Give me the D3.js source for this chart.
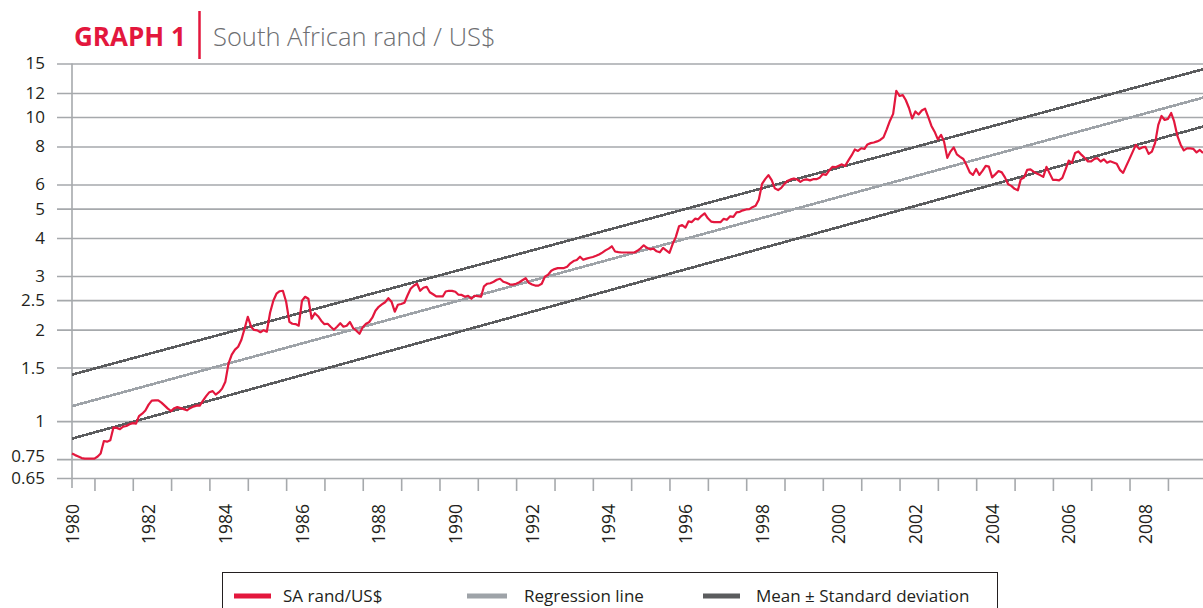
<!DOCTYPE html>
<html><head><meta charset="utf-8">
<script src="https://cdn.jsdelivr.net/npm/d3@7"></script>
<style>
body{margin:0;background:#fff;}
svg text{font-family:"Open Sans","Noto Sans",sans-serif;}
</style>
</head><body>
<svg id="chart" width="1203" height="608"></svg>
<script>
// ---- data ----
const firstMonth = [1980, 5];          // June 1980, monthly observations
const randUsd = [
0.782,0.773,0.765,0.756,0.753,0.753,0.753,0.753,0.765,0.782,0.860,0.856,0.865,0.952,0.950,0.941,0.959,0.964,0.977,0.985,
0.981,1.038,1.058,1.083,1.133,1.168,1.170,1.170,1.150,1.124,1.099,1.079,1.103,1.112,1.103,1.095,1.085,1.103,1.116,1.124,
1.124,1.168,1.208,1.245,1.255,1.222,1.245,1.279,1.348,1.545,1.654,1.718,1.757,1.852,2.013,2.204,2.044,1.995,1.988,1.960,
1.991,1.968,2.272,2.488,2.624,2.674,2.684,2.470,2.120,2.090,2.085,2.060,2.488,2.564,2.526,2.171,2.263,2.213,2.139,2.083,
2.090,2.044,1.998,2.044,2.099,2.044,2.060,2.118,2.024,1.983,1.938,2.036,2.090,2.114,2.188,2.307,2.377,2.419,2.460,2.536,
2.470,2.290,2.413,2.427,2.451,2.584,2.724,2.787,2.830,2.684,2.746,2.766,2.653,2.613,2.570,2.570,2.570,2.669,2.684,2.680,
2.663,2.604,2.600,2.564,2.584,2.526,2.584,2.575,2.564,2.776,2.830,2.841,2.873,2.917,2.939,2.873,2.851,2.818,2.810,2.830,
2.862,2.906,2.951,2.851,2.814,2.791,2.790,2.830,2.984,3.029,3.122,3.162,3.186,3.186,3.186,3.218,3.304,3.360,3.386,3.471,
3.393,3.423,3.444,3.465,3.497,3.532,3.583,3.643,3.693,3.758,3.613,3.596,3.585,3.585,3.585,3.585,3.587,3.632,3.701,3.786,
3.715,3.673,3.690,3.618,3.590,3.715,3.646,3.577,3.829,4.028,4.371,4.414,4.328,4.539,4.515,4.633,4.609,4.733,4.824,4.645,
4.532,4.515,4.510,4.510,4.626,4.592,4.716,4.697,4.860,4.878,4.934,4.967,4.982,5.054,5.105,5.343,6.028,6.247,6.443,6.200,
5.827,5.753,5.849,6.028,6.176,6.237,6.281,6.233,6.121,6.214,6.237,6.190,6.247,6.247,6.310,6.492,6.453,6.667,6.857,6.841,
6.918,6.987,6.908,7.200,7.479,7.826,7.737,7.897,7.856,8.128,8.209,8.246,8.315,8.410,8.570,9.110,9.710,10.24,12.20,11.73,
11.80,11.38,10.71,9.890,10.43,10.20,10.51,10.66,10.01,9.350,8.950,8.440,8.740,8.300,7.340,7.700,7.950,7.535,7.400,7.280,
6.950,6.580,6.450,6.750,6.450,6.650,6.908,6.871,6.333,6.479,6.643,6.577,6.333,6.015,5.939,5.805,5.740,6.237,6.328,6.703,
6.729,6.613,6.522,6.443,6.357,6.857,6.527,6.214,6.214,6.190,6.310,6.713,7.190,7.066,7.622,7.709,7.507,7.337,7.146,7.146,
7.284,7.323,7.141,7.260,7.078,7.155,7.090,7.024,6.703,6.553,6.908,7.284,7.696,8.097,7.856,7.946,7.977,7.564,7.700,8.221,
9.420,10.08,9.780,9.860,10.31,9.672,8.668,8.128,7.767,7.885,7.890,7.856,7.650,7.796,7.620
];
const trendEnds = ["1980-06","2009-12"];
const regression = [1.120, 11.58];
const upperBand = [1.422, 14.36];
const lowerBand = [0.876, 9.30];
const yTickValues = [0.65,0.75,1,1.5,2,2.5,3,4,5,6,8,10,12,15];
const yTickLabels = ["0.65","0.75","1","1.5","2","2.5","3","4","5","6","8","10","12","15"];
const xLabelYears = [1980,1982,1984,1986,1988,1990,1992,1994,1996,1998,2000,2002,2004,2006,2008];
const xTickYears = d3.range(1981, 2010);
const legendLabels = ["SA rand/US$","Regression line","Mean \u00b1 Standard deviation"];
const titleBold = "GRAPH 1";
const titleText = "South African rand / US$";

// ---- colours ----
const RED = "#e3173d", LIGHT = "#9ea3a8", DARK = "#5b5c5e", GRID = "#a6a9ac";

const svg = d3.select("#chart");
const parseM = d3.timeParse("%Y-%m");
const monthDate = i => new Date(firstMonth[0], firstMonth[1] + i, 1);

const x = d3.scaleTime()
  .domain([monthDate(0), monthDate(randUsd.length - 1)])
  .range([72, 1203]);
const y = d3.scaleLog().domain([0.65, 15]).range([478, 63.5]);

// gridlines + y labels
const yAxis = d3.axisLeft(y).tickValues(yTickValues)
  .tickFormat((d, i) => yTickLabels[i])
  .tickSize(-(1203 - 57)).tickPadding(12);
const gy = svg.append("g").attr("transform", "translate(57,0)").call(yAxis);
gy.select(".domain").remove();
gy.selectAll(".tick line").attr("stroke", GRID).attr("stroke-width", 1.6);
gy.selectAll(".tick text").attr("fill", "#231f20").style("font-size", "17px")
  .attr("y", d => d === 0.75 ? -3 : (d === 0.65 ? 0 : 0))
  .attr("dy", d => d === 0.65 ? "0.3em" : "0.32em");

// vertical axis line
svg.append("line").attr("x1", 72).attr("x2", 72).attr("y1", 63.5).attr("y2", 488)
  .attr("stroke", GRID).attr("stroke-width", 1.6);

// x tick marks (year boundaries)
const gxt = svg.append("g").attr("transform", "translate(0,478)")
  .call(d3.axisBottom(x).tickValues(xTickYears.map(yr => new Date(yr, 0, 1))).tickSize(13).tickFormat(""));
gxt.select(".domain").remove();
gxt.selectAll(".tick line").attr("stroke", GRID).attr("stroke-width", 1.6);

// x labels (rotated)
const gxl = svg.append("g").attr("transform", "translate(0,478)")
  .call(d3.axisBottom(x).tickValues(xLabelYears.map(yr => new Date(yr, 5, 1))).tickSize(0).tickFormat(d => d.getFullYear()));
gxl.select(".domain").remove();
gxl.selectAll(".tick text")
  .attr("transform", "rotate(-90)").attr("x", -26).attr("y", 0).attr("dy", "0.35em")
  .style("text-anchor", "end").style("font-size", "17.5px").attr("fill", "#231f20");

// trend lines
const trendLine = d3.line().x(d => x(d[0])).y(d => y(d[1]));
const ends = trendEnds.map(parseM);
[[upperBand, DARK], [lowerBand, DARK], [regression, LIGHT]].forEach(([vals, col]) => {
  svg.append("path").datum(ends.map((d, i) => [d, vals[i]]))
    .attr("d", trendLine).attr("fill", "none").attr("stroke", col)
    .attr("stroke-width", 2.6).attr("shape-rendering", "crispEdges");
});

// rand line
svg.append("path").datum(randUsd.map((v, i) => [monthDate(i), v]))
  .attr("d", d3.line().x(d => x(d[0])).y(d => y(d[1])))
  .attr("fill", "none").attr("stroke", RED).attr("stroke-width", 2.2)
  .attr("stroke-linejoin", "round");

// title
svg.append("text").attr("x", 74).attr("y", 46).text(titleBold)
  .attr("fill", RED).style("font-weight", "700").style("font-size", "26px");
svg.append("line").attr("x1", 199.5).attr("x2", 199.5).attr("y1", 11).attr("y2", 59)
  .attr("stroke", RED).attr("stroke-width", 2.5);
svg.append("text").attr("x", 213).attr("y", 46).text(titleText)
  .attr("fill", "#6d6e71").style("font-weight", "300").style("font-size", "25.5px");

// legend
svg.append("rect").attr("x", 222.5).attr("y", 572.5).attr("width", 775).attr("height", 60)
  .attr("fill", "none").attr("stroke", "#231f20").attr("stroke-width", 1);
const legItems = [
  {label: legendLabels[0], color: RED,   x1: 234, x2: 271, tx: 283},
  {label: legendLabels[1], color: LIGHT, x1: 467, x2: 507, tx: 524},
  {label: legendLabels[2], color: DARK,  x1: 703, x2: 740, tx: 756}
];
legItems.forEach(it => {
  svg.append("line").attr("x1", it.x1).attr("x2", it.x2).attr("y1", 596).attr("y2", 596)
    .attr("stroke", it.color).attr("stroke-width", 5);
  svg.append("text").attr("x", it.tx).attr("y", 596).attr("dy", "0.35em").text(it.label)
    .attr("fill", "#231f20").style("font-size", "17px");
});
</script>
</body></html>
